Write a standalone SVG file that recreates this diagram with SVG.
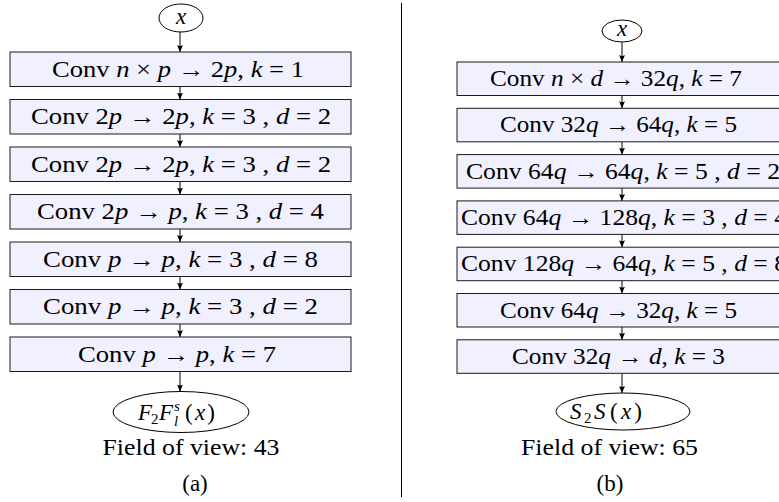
<svg xmlns="http://www.w3.org/2000/svg" width="779" height="502" viewBox="0 0 779 502">
<defs>
<style>
.box{fill:#F0F0FF;stroke:#1a1a1a;stroke-width:1}
.ell{fill:#ffffff;stroke:#000;stroke-width:1}
text{font-family:"Liberation Serif","DejaVu Serif",serif;font-size:23px;fill:#000}
.t{text-anchor:middle}
.i{font-style:italic}
.sm{font-size:15px}
.con{stroke:#000;stroke-width:1;fill:none;marker-end:url(#ah)}
</style>
<marker id="ah" markerUnits="userSpaceOnUse" markerWidth="8" markerHeight="8" refX="7" refY="3" orient="auto">
<path d="M0,0 L7,3 L0,6 Q2,3 0,0 z" fill="#000"/>
</marker>
</defs>
<rect width="779" height="502" fill="#fff"/>
<line x1="401.5" y1="3" x2="401.5" y2="497" stroke="#000" stroke-width="1"/>

<g id="connectors">
<line class="con" x1="180" y1="32" x2="180" y2="52"/>
<line class="con" x1="180" y1="86.5" x2="180" y2="99.5"/>
<line class="con" x1="180" y1="134" x2="180" y2="147"/>
<line class="con" x1="180" y1="181.5" x2="180" y2="194.5"/>
<line class="con" x1="180" y1="229" x2="180" y2="242"/>
<line class="con" x1="180" y1="276.5" x2="180" y2="289.5"/>
<line class="con" x1="180" y1="324" x2="180" y2="337"/>
<line class="con" x1="180" y1="371.5" x2="180" y2="391.5"/>
<line class="con" x1="622" y1="42" x2="622" y2="62"/>
<line class="con" x1="622" y1="95.5" x2="622" y2="108.3"/>
<line class="con" x1="622" y1="141.8" x2="622" y2="154.6"/>
<line class="con" x1="622" y1="188.1" x2="622" y2="200.9"/>
<line class="con" x1="622" y1="234.4" x2="622" y2="247.2"/>
<line class="con" x1="622" y1="280.7" x2="622" y2="293.5"/>
<line class="con" x1="622" y1="327" x2="622" y2="339.8"/>
<line class="con" x1="622" y1="373.3" x2="622" y2="393"/>
</g>

<g id="a_in">
<ellipse class="ell" cx="181" cy="18" rx="22" ry="14"/>
<text class="t i" x="181" y="24">x</text>
</g>
<g id="a1"><rect class="box" x="10" y="52" width="341" height="34.5"/>
<text class="t" x="178" y="76.5" textLength="252" lengthAdjust="spacingAndGlyphs">Conv <tspan class="i">n</tspan> × <tspan class="i">p</tspan> → 2<tspan class="i">p</tspan>, <tspan class="i">k</tspan> = 1</text></g>
<g id="a2"><rect class="box" x="10" y="99.5" width="341" height="34.5"/>
<text class="t" x="181" y="124" textLength="300" lengthAdjust="spacingAndGlyphs">Conv 2<tspan class="i">p</tspan> → 2<tspan class="i">p</tspan>, <tspan class="i">k</tspan> = 3 , <tspan class="i">d</tspan> = 2</text></g>
<g id="a3"><rect class="box" x="10" y="147" width="341" height="34.5"/>
<text class="t" x="181" y="171.5" textLength="300" lengthAdjust="spacingAndGlyphs">Conv 2<tspan class="i">p</tspan> → 2<tspan class="i">p</tspan>, <tspan class="i">k</tspan> = 3 , <tspan class="i">d</tspan> = 2</text></g>
<g id="a4"><rect class="box" x="10" y="194.5" width="341" height="34.5"/>
<text class="t" x="180.5" y="219" textLength="287" lengthAdjust="spacingAndGlyphs">Conv 2<tspan class="i">p</tspan> → <tspan class="i">p</tspan>, <tspan class="i">k</tspan> = 3 , <tspan class="i">d</tspan> = 4</text></g>
<g id="a5"><rect class="box" x="10" y="242" width="341" height="34.5"/>
<text class="t" x="180.5" y="266.5" textLength="275" lengthAdjust="spacingAndGlyphs">Conv <tspan class="i">p</tspan> → <tspan class="i">p</tspan>, <tspan class="i">k</tspan> = 3 , <tspan class="i">d</tspan> = 8</text></g>
<g id="a6"><rect class="box" x="10" y="289.5" width="341" height="34.5"/>
<text class="t" x="180.5" y="314" textLength="275" lengthAdjust="spacingAndGlyphs">Conv <tspan class="i">p</tspan> → <tspan class="i">p</tspan>, <tspan class="i">k</tspan> = 3 , <tspan class="i">d</tspan> = 2</text></g>
<g id="a7"><rect class="box" x="10" y="337" width="341" height="34.5"/>
<text class="t" x="177" y="361.5" textLength="198" lengthAdjust="spacingAndGlyphs">Conv <tspan class="i">p</tspan> → <tspan class="i">p</tspan>, <tspan class="i">k</tspan> = 7</text></g>
<g id="a_out">
<ellipse class="ell" cx="181" cy="412" rx="68" ry="20.5"/>
<text class="i" x="138" y="420">F</text>
<text class="sm" x="151" y="424">2</text>
<text class="i" x="159" y="420">F</text>
<text class="i sm" x="174" y="411">s</text>
<text class="i sm" x="174" y="426">l</text>
<text x="185" y="420" textLength="30" lengthAdjust="spacing">(<tspan class="i">x</tspan>)</text>
</g>
<g id="a_cap">
<text class="t" x="191" y="455" textLength="177" lengthAdjust="spacingAndGlyphs">Field of view: 43</text>
<text class="t" x="195" y="491">(a)</text>
</g>

<g id="b_in">
<ellipse class="ell" cx="622" cy="31" rx="20" ry="11"/>
<text class="t i" x="622" y="36">x</text>
</g>
<g id="b1"><rect class="box" x="457" y="62" width="330" height="33.5"/>
<text class="t" x="616" y="86" textLength="252" lengthAdjust="spacingAndGlyphs">Conv <tspan class="i">n</tspan> × <tspan class="i">d</tspan> → 32<tspan class="i">q</tspan>, <tspan class="i">k</tspan> = 7</text></g>
<g id="b2"><rect class="box" x="457" y="108.3" width="330" height="33.5"/>
<text class="t" x="618.5" y="132.3" textLength="237" lengthAdjust="spacingAndGlyphs">Conv 32<tspan class="i">q</tspan> → 64<tspan class="i">q</tspan>, <tspan class="i">k</tspan> = 5</text></g>
<g id="b3"><rect class="box" x="457" y="154.6" width="330" height="33.5"/>
<text x="466" y="178.6" textLength="314" lengthAdjust="spacingAndGlyphs">Conv 64<tspan class="i">q</tspan> → 64<tspan class="i">q</tspan>, <tspan class="i">k</tspan> = 5 , <tspan class="i">d</tspan> = 2</text></g>
<g id="b4"><rect class="box" x="457" y="200.9" width="330" height="33.5"/>
<text x="461" y="224.9" textLength="326" lengthAdjust="spacingAndGlyphs">Conv 64<tspan class="i">q</tspan> → 128<tspan class="i">q</tspan>, <tspan class="i">k</tspan> = 3 , <tspan class="i">d</tspan> = 4</text></g>
<g id="b5"><rect class="box" x="457" y="247.2" width="330" height="33.5"/>
<text x="461" y="271.2" textLength="326" lengthAdjust="spacingAndGlyphs">Conv 128<tspan class="i">q</tspan> → 64<tspan class="i">q</tspan>, <tspan class="i">k</tspan> = 5 , <tspan class="i">d</tspan> = 8</text></g>
<g id="b6"><rect class="box" x="457" y="293.5" width="330" height="33.5"/>
<text class="t" x="618.5" y="317.5" textLength="237" lengthAdjust="spacingAndGlyphs">Conv 64<tspan class="i">q</tspan> → 32<tspan class="i">q</tspan>, <tspan class="i">k</tspan> = 5</text></g>
<g id="b7"><rect class="box" x="457" y="339.8" width="330" height="33.5"/>
<text class="t" x="618.5" y="363.8" textLength="213" lengthAdjust="spacingAndGlyphs">Conv 32<tspan class="i">q</tspan> → <tspan class="i">d</tspan>, <tspan class="i">k</tspan> = 3</text></g>
<g id="b_out">
<ellipse class="ell" cx="623" cy="411.5" rx="67" ry="18.5"/>
<text class="i" x="570" y="419">S</text>
<text class="sm" x="584" y="423">2</text>
<text class="i" x="594" y="419">S</text>
<text x="610" y="419" textLength="32" lengthAdjust="spacing">(<tspan class="i">x</tspan>)</text>
</g>
<g id="b_cap">
<text class="t" x="609.5" y="455" textLength="177" lengthAdjust="spacingAndGlyphs">Field of view: 65</text>
<text class="t" x="610" y="491">(b)</text>
</g>
</svg>
